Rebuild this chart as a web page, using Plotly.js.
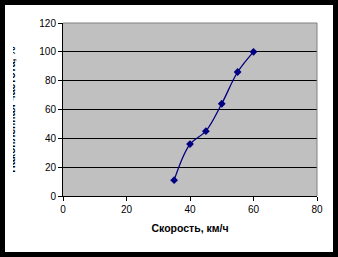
<!DOCTYPE html>
<html><head><meta charset="utf-8">
<script src="https://cdn.plot.ly/plotly-3.0.1.min.js"></script>
<style>
html,body{margin:0;padding:0;background:#fff;}
#wrap{position:relative;width:338px;height:257px;overflow:hidden;}
#chart{position:absolute;left:0;top:0;width:338px;height:257px;}
#clip{position:absolute;left:5px;top:5px;width:8px;height:247px;background:#fff;pointer-events:none;}
#frame{position:absolute;left:0;top:0;width:328px;height:247px;border:5px solid #000;pointer-events:none;}
</style></head>
<body><div id="wrap"><div id="chart"></div><div id="clip"></div><div id="frame"></div></div>
<script>
const speed = [35, 40, 45, 50, 55, 60];
const cumFreq = [11, 36, 45, 64, 86, 100];
const xTicks = [0, 20, 40, 60, 80];
const yTicks = [0, 20, 40, 60, 80, 100, 120];
const xTitle = 'Скорость, км/ч';
const yTitle = 'Накопленная частота, %';

const trace = {
  x: speed, y: cumFreq, type: 'scatter', mode: 'lines+markers',
  line: {color: '#000080', width: 1.3, shape: 'spline', smoothing: 1},
  marker: {symbol: 'diamond', size: 6, color: '#000080'},
  hoverinfo: 'skip'
};
const font = {family: 'Liberation Sans, Arial, sans-serif', size: 10, color: '#000'};
const layout = {
  width: 338, height: 257,
  margin: {l: 63, r: 21, t: 23, b: 61, pad: 0},
  paper_bgcolor: '#fff', plot_bgcolor: '#c0c0c0',
  showlegend: false, font: font,
  xaxis: {range: [0, 80], tickvals: xTicks, ticktext: xTicks.map(String),
    showgrid: false, zeroline: false, showline: true, linecolor: '#000', linewidth: 1,
    ticks: 'outside', ticklen: 4, tickcolor: '#000', tickfont: font,
    title: {text: xTitle, font: {family: 'Liberation Sans, Arial, sans-serif', size: 10.5, color: '#000', weight: 'bold'}, standoff: 10}},
  yaxis: {range: [0, 120], tickvals: yTicks, ticktext: yTicks.map(String),
    showgrid: true, gridcolor: '#000', gridwidth: 1, zeroline: false,
    showline: true, linecolor: '#000', linewidth: 1,
    ticks: 'outside', ticklen: 4, tickcolor: '#000', tickfont: font,
    title: {text: yTitle, font: {family: 'Liberation Sans, Arial, sans-serif', size: 10.5, color: '#000', weight: 'bold'}, standoff: 21}},
  shapes: [
    {type: 'line', xref: 'paper', yref: 'paper', x0: 0, x1: 1, y0: 1, y1: 1, line: {color: '#808080', width: 1}, layer: 'above'},
    {type: 'line', xref: 'paper', yref: 'paper', x0: 1, x1: 1, y0: 0, y1: 1, line: {color: '#808080', width: 1}, layer: 'above'}
  ]
};
Plotly.newPlot('chart', [trace], layout, {staticPlot: true, displayModeBar: false});
</script></body></html>
